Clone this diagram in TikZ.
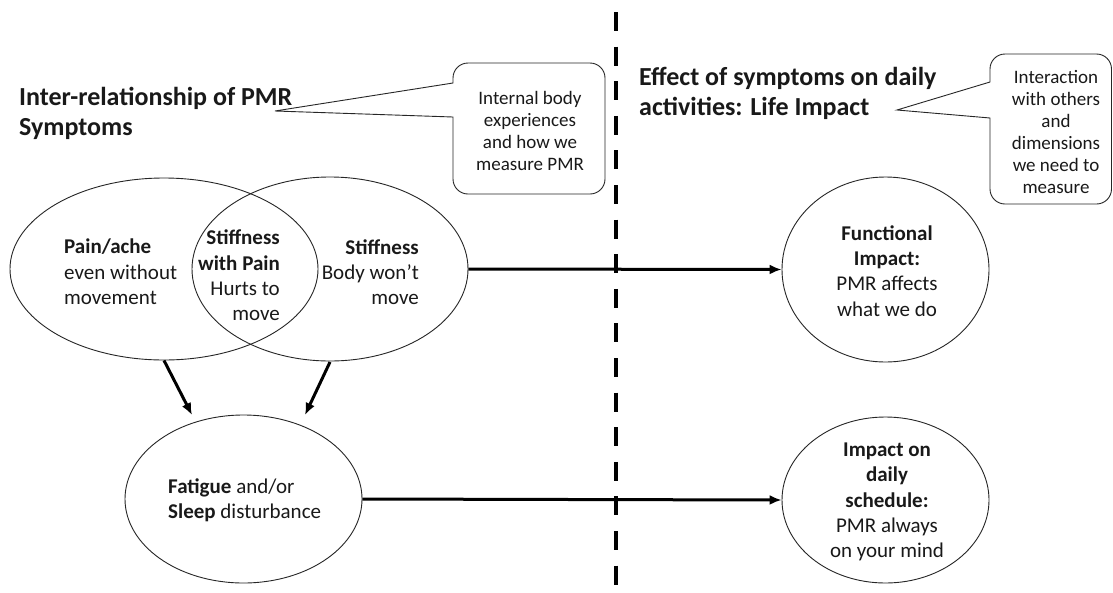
\documentclass[tikz,border=0pt]{standalone}
\usepackage{fontspec}
\setmainfont{Carlito}
\usetikzlibrary{shapes.geometric,arrows.meta}
\begin{document}
\begin{tikzpicture}[x=1pt,y=-1pt,
  oval/.style={draw=black!85,line width=0.9pt,ellipse,inner sep=0pt},
  txt/.style={inner sep=0pt,text=black!90,font=\fontsize{21}{25.3}\selectfont},
  head/.style={inner sep=0pt,text=black!90,align=left,font=\fontsize{26}{30}\selectfont\bfseries},
  small/.style={inner sep=0pt,text=black!90,align=center,font=\fontsize{19}{22}\selectfont},
  arr/.style={line width=3pt,-{Latex[length=12pt,width=10pt]}},
  bubble/.style={draw=black!85,line width=0.9pt,fill=white},
  divider/.style={line width=4pt,dash pattern=on 19pt off 15.6pt}]
\useasboundingbox (0,0) rectangle (1113,592);
\fill[white] (0,0) rectangle (1113,592);
% dashed divider
\coordinate (dtop) at (616,12);
\coordinate (dbot) at (616,592);
\draw[divider] (dtop) -- (dbot);
% ellipses
\node[oval,minimum width=308pt,minimum height=182pt] (L) at (164,269) {};
\node[oval,minimum width=276pt,minimum height=184pt] (R) at (330,269) {};
\node[oval,minimum width=237pt,minimum height=168pt] (F) at (243.5,499) {};
\node[oval,minimum width=207pt,minimum height=185pt] (FI) at (885.5,269.5) {};
\node[oval,minimum width=207pt,minimum height=166pt] (DS) at (885.5,500) {};
% ellipse texts
\node[txt,anchor=west,align=left] (Ltxt) at (64,272) {\textbf{Pain/ache}\\even without\\movement};
\node[txt,anchor=east,align=right] (Mtxt) at (280,275.5) {\textbf{Stiffness}\\\textbf{with Pain}\\Hurts to\\move};
\node[txt,anchor=east,align=right] (Rtxt) at (419,272) {\textbf{Stiffness}\\Body won’t\\move};
\node[txt,anchor=west,align=left] (Ftxt) at (168,500.5) {\textbf{Fatigue} and/or\\\textbf{Sleep} disturbance};
\node[txt,align=center] (FItxt) at (887,271) {\textbf{Functional}\\\textbf{Impact:}\\PMR affects\\what we do};
\node[txt,align=center] (DStxt) at (887,502) {\textbf{Impact on}\\\textbf{daily}\\\textbf{schedule:}\\PMR always\\on your mind};
% headings
\node[head,anchor=west] (H1) at (19,113) {Inter-relationship of PMR\\Symptoms};
\node[head,anchor=west] (H2) at (639,93) {Effect of symptoms on daily\\activities: Life Impact};
% callout bubbles
\coordinate (tip1) at (275,111);
\coordinate (tip2) at (897,110);
\draw[bubble] (tip1) -- (453,83) -- (453,82) [rounded corners=15pt] -- (453,63) -- (605,63) -- (605,194) -- (453,194) -- (453,150) [sharp corners] -- (453,117) -- cycle;
\draw[bubble] (tip2) -- (990,82) -- (990,81) [rounded corners=15pt] -- (990,54) -- (1111.5,54) -- (1111.5,204) -- (990,204) -- (990,160) [sharp corners] -- (990,118) -- cycle;
\node[small] (B1) at (530,130.5) {Internal body\\experiences\\and how we\\measure PMR};
\node[small] (B2) at (1056,132) {Interaction\\with others\\and\\dimensions\\we need to\\measure};
% arrows
\coordinate (fa) at (192,415);
\coordinate (fb) at (305,415);
\draw[arr] (L.south) -- (fa);
\draw[arr] (330,362) -- (fb);
\draw[arr] (R.east) -- (FI.west);
\draw[arr] (F.east) -- (DS.west);
\end{tikzpicture}
\end{document}
